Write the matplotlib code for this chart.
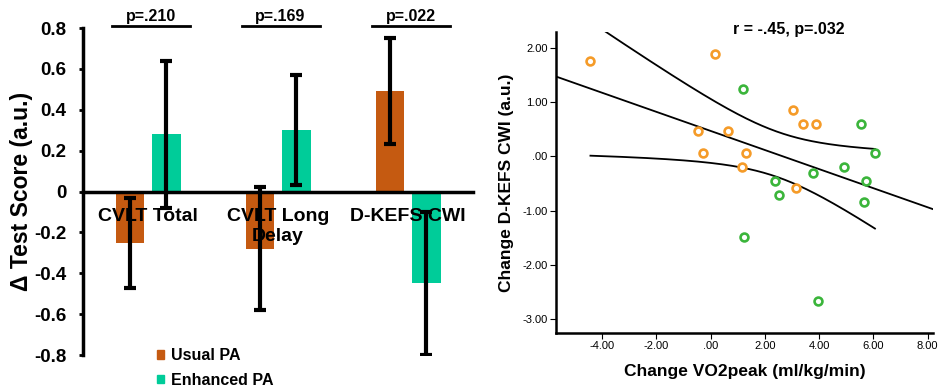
import numpy as np
import matplotlib
matplotlib.use("Agg")
import matplotlib.pyplot as plt
from matplotlib.patches import Patch

plt.rcParams['font.family'] = ['Liberation Sans', 'DejaVu Sans']

# left panel: change in test score by group
tests = ["CVLT Total", "CVLT Long\nDelay", "D-KEFS CWI"]
usual_mean = [-0.25, -0.28, 0.49]
usual_err = [0.22, 0.30, 0.26]
enhanced_mean = [0.28, 0.30, -0.45]
enhanced_err = [0.36, 0.27, 0.35]
p_labels = ["p=.210", "p=.169", "p=.022"]

# right panel: change VO2peak vs change D-KEFS CWI
usual_vo2 = [-4.43, 0.18, 3.03, 3.42, 3.87, -0.47, 0.66, -0.28, 1.29, 1.17, 3.14]
usual_cwi = [1.75, 1.88, 0.85, 0.59, 0.59, 0.46, 0.46, 0.07, 0.07, -0.19, -0.58]
enh_vo2 = [1.18, 5.53, 6.06, 4.91, 3.78, 5.72, 2.38, 2.51, 5.64, 1.23, 3.95]
enh_cwi = [1.24, 0.59, 0.07, -0.19, -0.31, -0.45, -0.45, -0.71, -0.83, -1.49, -2.66]

orange = "#C55A11"
teal = "#00CC99"

fig = plt.figure(figsize=(9.39, 3.88), dpi=100)
W, H = 939, 388

ax = fig.add_axes([83 / W, 1 - 355 / H, 390 / W, 327 / H])
x = np.arange(len(tests))
bw = 0.22
off = 0.14
eb = dict(ecolor="black", elinewidth=3, capsize=4, capthick=3)
ax.bar(x - off, usual_mean, bw, color=orange, yerr=usual_err, error_kw=eb, label="Usual PA")
ax.bar(x + off, enhanced_mean, bw, color=teal, yerr=enhanced_err, error_kw=eb, label="Enhanced PA")

ax.set_xlim(-0.5, 2.5)
ax.set_ylim(-0.8, 0.8)
ax.set_yticks(np.arange(-0.8, 0.81, 0.2))
ax.set_yticklabels(["-0.8", "-0.6", "-0.4", "-0.2", "0", "0.2", "0.4", "0.6", "0.8"])
for s in ["top", "right"]:
    ax.spines[s].set_visible(False)
ax.spines["left"].set_linewidth(2.5)
ax.spines["bottom"].set_position(("data", 0))
ax.spines["bottom"].set_linewidth(2.5)
ax.spines["bottom"].set_zorder(3)
ax.set_xticks(x)
ax.set_xticklabels(tests, fontsize=14, fontweight="bold", linespacing=1.25)
ax.tick_params(axis="x", length=0, pad=12)
ax.tick_params(axis="y", length=3, width=2, labelsize=13.5, pad=9)
for t in ax.get_yticklabels():
    t.set_fontweight("bold")
ax.set_ylabel("Δ Test Score (a.u.)", fontsize=16.5, fontweight="bold", labelpad=1)

for i, p in enumerate(p_labels):
    ax.plot([i - 0.28, i + 0.32], [0.81, 0.81], color="black", lw=2, clip_on=False)
    ax.text(i + 0.02, 0.82, p, ha="center", va="bottom", fontsize=11.5, fontweight="bold")

handles = [Patch(color=orange, label="Usual PA"), Patch(color=teal, label="Enhanced PA")]
fig.legend(handles=handles, loc="upper left", bbox_to_anchor=(157 / W, 1 - 348 / H),
           frameon=False, prop={"weight": "bold", "size": 11.5},
           handlelength=0.45, handleheight=0.45, handletextpad=0.4, labelspacing=0.6,
           borderpad=0, borderaxespad=0)

# scatter panel
ax2 = fig.add_axes([556 / W, 1 - 333 / H, 377 / W, 301 / H])
ax2.scatter(usual_vo2, usual_cwi, s=32, facecolors="white", edgecolors="#F59B28", linewidths=1.9, zorder=3)
ax2.scatter(enh_vo2, enh_cwi, s=32, facecolors="white", edgecolors="#3BB53B", linewidths=1.9, zorder=3)

allx = np.array(usual_vo2 + enh_vo2)
ally = np.array(usual_cwi + enh_cwi)
n = len(allx)
slope, intercept = np.polyfit(allx, ally, 1)
resid = ally - (slope * allx + intercept)
s_err = np.sqrt(np.sum(resid ** 2) / (n - 2))
sxx = np.sum((allx - allx.mean()) ** 2)
t_crit = 2.086  # t(0.975, df=20)

xl = np.array([-5.7, 8.2])
ax2.plot(xl, slope * xl + intercept, color="black", lw=1.3)
xs = np.linspace(allx.min(), allx.max(), 200)
fit = slope * xs + intercept
half = t_crit * s_err * np.sqrt(1 / n + (xs - allx.mean()) ** 2 / sxx)
ax2.plot(xs, fit + half, color="black", lw=1.3)
ax2.plot(xs, fit - half, color="black", lw=1.3)

ax2.set_xlim(-5.7, 8.2)
ax2.set_ylim(-3.25, 2.29)
ax2.set_xticks([-4, -2, 0, 2, 4, 6, 8])
ax2.set_xticklabels(["-4.00", "-2.00", ".00", "2.00", "4.00", "6.00", "8.00"])
ax2.set_yticks([-3, -2, -1, 0, 1, 2])
ax2.set_yticklabels(["-3.00", "-2.00", "-1.00", ".00", "1.00", "2.00"])
for s in ["top", "right"]:
    ax2.spines[s].set_visible(False)
for s in ["left", "bottom"]:
    ax2.spines[s].set_linewidth(1.8)
ax2.tick_params(length=4, width=0.8, labelsize=8, pad=2)
ax2.set_xlabel("Change VO2peak (ml/kg/min)", fontsize=12.5, fontweight="bold", labelpad=9)
ax2.set_ylabel("Change D-KEFS CWI (a.u.)", fontsize=12.5, fontweight="bold", labelpad=6)
ax2.text(2.9, 2.33, "r = -.45, p=.032", ha="center", va="center", fontsize=11.5, fontweight="bold")

fig.savefig("out.png", dpi=100)
